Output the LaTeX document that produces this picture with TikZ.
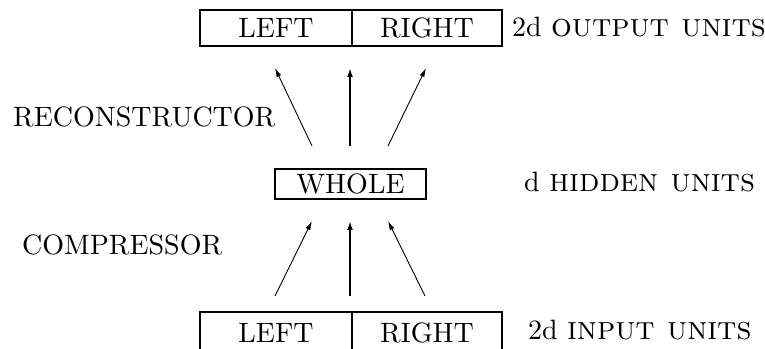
\documentclass[tikz,border=0pt]{standalone}
\usepackage{graphicx}
\usetikzlibrary{arrows.meta}
\newcommand{\bigtxt}[1]{\scalebox{2.8}{#1}}
\newcommand{\unitsc}[1]{{\fontsize{11.7}{12}\selectfont\textsc{#1}}}
\begin{document}
\begin{tikzpicture}[x=1pt,y=1pt,
  font=\fontsize{10}{12}\selectfont,
  unitbox/.style={draw, line width=1.8pt, inner sep=0pt, minimum height=36pt},
  lbl/.style={anchor=base west, inner sep=0pt},
  thinarrow/.style={line width=0.9pt, -{Latex[length=9pt,width=5pt]}},
  thickarrow/.style={line width=1.8pt, -{Latex[length=9pt,width=6pt]}}]
\useasboundingbox (0,0) rectangle (765,348);
% output layer
\node[unitbox, minimum width=152pt] (oleft) at (276,320) {\bigtxt{LEFT}};
\node[unitbox, minimum width=150pt] (oright) at (427,320) {\bigtxt{RIGHT}};
\node[lbl] (olab) at (512,311) {\bigtxt{2d \unitsc{output units}}};
% hidden layer
\node[unitbox, minimum width=151pt, minimum height=30pt] (whole) at (350.5,164) {\bigtxt{WHOLE}};
\node[lbl] (hlab) at (524,156) {\bigtxt{d \unitsc{hidden units}}};
% input layer
\node[unitbox, minimum width=152pt, minimum height=42pt] (ileft) at (276,15) {\bigtxt{LEFT}};
\node[unitbox, minimum width=150pt, minimum height=42pt] (iright) at (427,15) {\bigtxt{RIGHT}};
\node[lbl] (ilab) at (528,9) {\bigtxt{2d \unitsc{input units}}};
% side labels
\node[lbl] (rec) at (13,221) {\bigtxt{RECONSTRUCTOR}};
\node[lbl] (comp) at (22,93) {\bigtxt{COMPRESSOR}};
% arrow end points
\coordinate (ua1) at (312,202); \coordinate (ub1) at (275,280);
\coordinate (ua2) at (350,202); \coordinate (ub2) at (350,280);
\coordinate (ua3) at (388,202); \coordinate (ub3) at (426,280);
\coordinate (la1) at (275,52);  \coordinate (lb1) at (312,127);
\coordinate (la2) at (350,52);  \coordinate (lb2) at (350,127);
\coordinate (la3) at (425,52);  \coordinate (lb3) at (388,127);
\draw[thinarrow] (ua1) -- (ub1);
\draw[thickarrow] (ua2) -- (ub2);
\draw[thinarrow] (ua3) -- (ub3);
\draw[thinarrow] (la1) -- (lb1);
\draw[thickarrow] (la2) -- (lb2);
\draw[thinarrow] (la3) -- (lb3);
\end{tikzpicture}
\end{document}
